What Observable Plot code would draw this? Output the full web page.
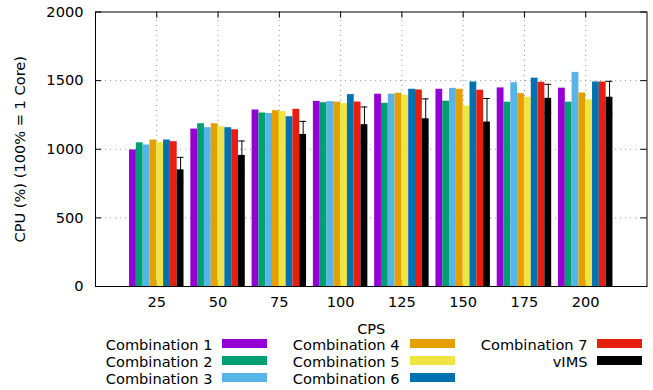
<!DOCTYPE html>
<html>
<head>
<meta charset="utf-8">
<script src="https://cdn.jsdelivr.net/npm/d3@7"></script>
<script src="https://cdn.jsdelivr.net/npm/@observablehq/plot@0.6"></script>
<style>
  html, body { margin: 0; padding: 0; background: #fff; }
  #wrap { position: relative; width: 653px; height: 390px; font-family: "DejaVu Sans", sans-serif; }
  .lg { position: absolute; font-size: 14.6px; color: #000; white-space: nowrap; }
  .lt { position: absolute; text-align: right; width: 160px; height: 13px; line-height: 13px; }
  .sw { position: absolute; width: 45px; height: 9px; }
</style>
</head>
<body>
<div id="wrap"></div>
<script>
const groups = [25, 50, 75, 100, 125, 150, 175, 200];
const seriesNames = ["Combination 1", "Combination 2", "Combination 3", "Combination 4", "Combination 5", "Combination 6", "Combination 7", "vIMS"];
const seriesColors = ["#9400d3", "#009e73", "#56b4e9", "#e69f00", "#f0e442", "#0072b2", "#e51e10", "#000000"];
const comb1 = [995, 1147, 1286, 1349, 1401, 1437, 1447, 1445];
const comb2 = [1047, 1186, 1264, 1339, 1335, 1350, 1343, 1343];
const comb3 = [1031, 1157, 1261, 1347, 1401, 1444, 1485, 1560];
const comb4 = [1067, 1186, 1281, 1344, 1408, 1437, 1405, 1410];
const comb5 = [1047, 1164, 1274, 1332, 1393, 1314, 1379, 1360];
const comb6 = [1067, 1157, 1237, 1398, 1437, 1490, 1518, 1490];
const comb7 = [1055, 1142, 1291, 1344, 1432, 1430, 1488, 1490];
const vims = [850, 955, 1108, 1179, 1222, 1198, 1371, 1379];
const vimsErr = [91, 105, 95, 129, 145, 172, 102, 116];
const yTicks = [0, 500, 1000, 1500, 2000];

const allSeries = [comb1, comb2, comb3, comb4, comb5, comb6, comb7, vims];
const bars = [];
allSeries.forEach((vals, k) => vals.forEach((v, i) => bars.push({gi: i, k, v, s: seriesNames[k]})));
const errs = vims.map((v, i) => ({gi: i, v, e: vimsErr[i]}));
const slot = 1 / 9;
const bx1 = d => d.gi + 1 + (d.k - 4) * slot;
const errX = d => d.gi + 1 + 3.5 * slot;

const W = 653, H = 390;
const chart = Plot.plot({
  width: W, height: H,
  marginLeft: 95, marginRight: 6.5, marginTop: 11.5, marginBottom: 104,
  style: {fontFamily: "DejaVu Sans, sans-serif", fontSize: "14.6px", background: "white", overflow: "visible"},
  x: {type: "linear", domain: [0, 9], axis: null},
  y: {type: "linear", domain: [0, 2000], axis: null},
  color: {domain: seriesNames, range: seriesColors},
  marks: [
    // grid
    Plot.ruleY(yTicks.filter(t => t > 0 && t < 2000), {y: d => d, x1: 0, x2: 9, stroke: "#a0a0a0", strokeDasharray: "1.2,3.8", strokeWidth: 1}),
    Plot.ruleX(groups, {x: (d, i) => i + 1, y1: 0, y2: 2000, stroke: "#a0a0a0", strokeDasharray: "1.2,3.8", strokeWidth: 1}),
    // inward ticks
    Plot.ruleY(yTicks, {y: d => d, x1: 0, x2: 0.1, stroke: "black"}),
    Plot.ruleY(yTicks, {y: d => d, x1: 8.9, x2: 9, stroke: "black"}),
    Plot.ruleX(groups, {x: (d, i) => i + 1, y1: 2000, y2: 1955, stroke: "black"}),
    Plot.ruleX(groups, {x: (d, i) => i + 1, y1: 0, y2: 45, stroke: "black"}),
    // bars
    Plot.rectY(bars, {x1: bx1, x2: d => bx1(d) + slot, y1: 0, y2: "v", fill: "s"}),
    // error bars
    Plot.ruleX(errs, {x: errX, y1: d => d.v - d.e, y2: d => d.v + d.e, stroke: "black", strokeWidth: 1}),
    Plot.ruleY(errs, {y: d => d.v + d.e, x1: d => errX(d) - 0.055, x2: d => errX(d) + 0.055, stroke: "black", strokeWidth: 1}),
    Plot.ruleY(errs, {y: d => d.v - d.e, x1: d => errX(d) - 0.055, x2: d => errX(d) + 0.055, stroke: "black", strokeWidth: 1}),
    // frame
    Plot.frame({stroke: "black", strokeWidth: 1}),
    // y tick labels
    Plot.text(yTicks, {y: d => d, frameAnchor: "left", dx: -12, textAnchor: "end", lineAnchor: "middle", text: d => String(d), fill: "black"}),
    // x tick labels
    Plot.text(groups, {x: (d, i) => i + 1, y: 0, dy: 16, lineAnchor: "middle", text: d => String(d), fill: "black"}),
    // axis titles
    Plot.text(["CPS"], {frameAnchor: "bottom", dy: 43, lineAnchor: "middle", text: d => d, fill: "black"}),
    Plot.text(["CPU (%) (100% = 1 Core)"], {frameAnchor: "left", dx: -75, rotate: -90, textAnchor: "middle", lineAnchor: "middle", text: d => d, fill: "black"})
  ]
});
const wrap = document.getElementById("wrap");
wrap.appendChild(chart);

// legend
const legCols = [{textRight: 212.5, swX: 222}, {textRight: 399.5, swX: 410}, {textRight: 587.5, swX: 597}];
const legRows = [344, 361, 378];
const legLayout = [[0, 0], [0, 1], [0, 2], [1, 0], [1, 1], [1, 2], [2, 0], [2, 1]];
seriesNames.forEach((name, k) => {
  const [c, r] = legLayout[k];
  const col = legCols[c], cy = legRows[r];
  const t = document.createElement("div");
  t.className = "lg lt";
  t.textContent = name;
  t.style.left = (col.textRight - 160) + "px";
  t.style.top = (cy - 6.5) + "px";
  wrap.appendChild(t);
  const s = document.createElement("div");
  s.className = "sw";
  s.style.left = col.swX + "px";
  s.style.top = (cy - 5) + "px";
  s.style.background = seriesColors[k];
  wrap.appendChild(s);
});
</script>
</body>
</html>
